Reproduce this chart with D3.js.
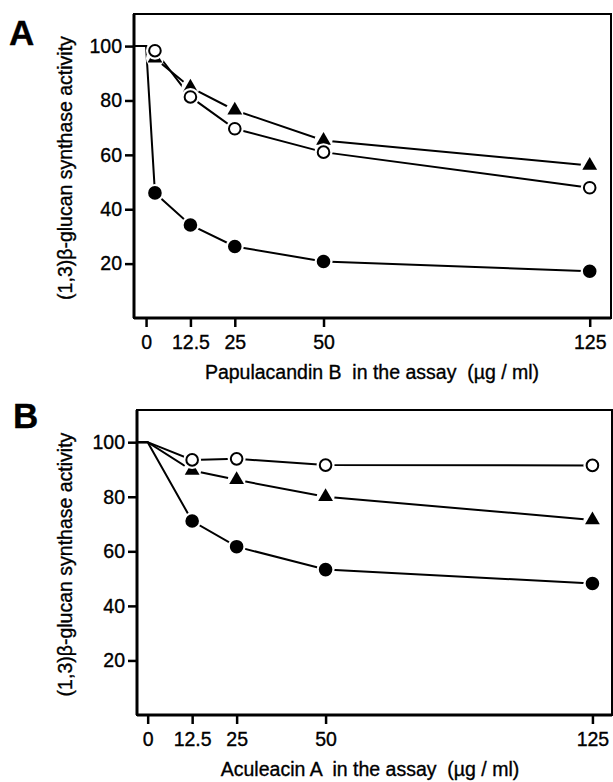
<!DOCTYPE html>
<html>
<head>
<meta charset="utf-8">
<script src="https://cdn.jsdelivr.net/npm/d3@7"></script>
<style>
  body { margin: 0; background: #fff; }
  text { font-family: "Liberation Sans", Arial, Helvetica, sans-serif; fill: #000; stroke: #000; stroke-width: 0.35; }
</style>
</head>
<body>
<svg id="chart" width="613" height="782"></svg>
<script>
// concentrations (ug/ml) and activity (%)
const startValue = 100;
const concA = [2.5, 12.5, 25, 50, 125];
const papFilled = [46, 34.2, 26.3, 20.8, 17.2];
const papOpen = [98.3, 81.3, 69.6, 61, 47.9];
const papTriangle = [95.5, 84.8, 76.4, 65.3, 56.1];

const concB = [12.5, 25, 50, 125];
const acuFilled = [71.1, 61.7, 53.3, 48.2];
const acuOpen = [93.5, 93.9, 91.6, 91.5];
const acuTriangle = [89.6, 86.2, 80, 71.5];

const xTicks = [0, 12.5, 25, 50, 125];
const yTicks = [20, 40, 60, 80, 100];

const svg = d3.select("#chart");

function drawPanel(p) {
    const x = d3.scaleLinear().domain(p.xDomain).range([p.left, p.right]);
    const y = d3.scaleLinear().domain([0, 111.8]).range([p.bottom, p.top]);
    const g = svg.append("g");

    // frame
    g.append("rect")
        .attr("x", p.left).attr("y", p.top)
        .attr("width", p.right - p.left).attr("height", p.bottom - p.top)
        .attr("fill", "none").attr("stroke", "#000").attr("stroke-width", 2);

    const xAxis = g.append("g")
        .attr("transform", `translate(0,${p.bottom})`)
        .call(d3.axisBottom(x).tickValues(xTicks).tickSize(9).tickPadding(8)
            .tickFormat(d => d));
    const yAxis = g.append("g")
        .attr("transform", `translate(${p.left},0)`)
        .call(d3.axisLeft(y).tickValues(yTicks).tickSize(9).tickPadding(3));
    [xAxis, yAxis].forEach(a => {
        a.select(".domain").attr("stroke-width", 3);
        a.selectAll(".tick line").attr("stroke-width", 2.5);
        a.selectAll("text").attr("font-size", 19.5).attr("fill", "#000");
    });
    yAxis.select(".domain").attr("d", `M0,${p.top}V${p.bottom}`);
    xAxis.select(".domain").attr("d", `M${p.left},0H${p.right}`);

    // panel letter
    g.append("text").attr("x", p.letterX).attr("y", p.letterY)
        .attr("font-size", 35).attr("font-weight", "bold").attr("stroke-width", 1)
        .text(p.letter);

    // axis titles
    g.append("text")
        .attr("transform", `translate(72,${(p.top + p.bottom) / 2 + 2}) rotate(-90)`)
        .attr("text-anchor", "middle").attr("font-size", 19.5)
        .text("(1,3)β-glucan synthase activity");
    g.append("text")
        .attr("x", p.titleX).attr("y", p.bottom + 61)
        .attr("text-anchor", "middle").attr("font-size", 19.5)
        .attr("xml:space", "preserve")
        .text(p.xTitle);

    const line = d3.line().x(d => x(d[0])).y(d => y(d[1]));
    const x0 = x.domain()[0];

    p.series.forEach(s => {
        const pts = s.values.map((v, i) => [p.conc[i], v]);
        g.append("path")
            .datum([[x0, startValue], [0, startValue], ...pts])
            .attr("d", line)
            .attr("fill", "none").attr("stroke", "#000").attr("stroke-width", 2);
    });

    const tri = d3.symbol().type(d3.symbolTriangle).size(95);
    p.series.forEach(s => {
        const pts = s.values.map((v, i) => [p.conc[i], v]);
        const m = g.append("g").selectAll("g").data(pts).join("g")
            .attr("transform", d => `translate(${x(d[0])},${y(d[1])})`);
        m.append("circle").attr("r", 9).attr("fill", "#fff");
        if (s.shape === "triangle") {
            m.append("path").attr("d", tri).attr("fill", "#000");
        } else {
            m.append("circle").attr("r", 5.8)
                .attr("fill", s.shape === "filled" ? "#000" : "#fff")
                .attr("stroke", "#000").attr("stroke-width", 2);
        }
    });
}

drawPanel({
    letter: "A", letterX: 9, letterY: 45,
    left: 134, right: 611, top: 14, bottom: 318,
    xDomain: [-3.4, 131], conc: concA, titleX: 372,
    xTitle: "Papulacandin B  in the assay  (µg / ml)",
    series: [
        { shape: "filled", values: papFilled },
        { shape: "triangle", values: papTriangle },
        { shape: "open", values: papOpen }
    ]
});

drawPanel({
    letter: "B", letterX: 13, letterY: 428,
    left: 137, right: 612, top: 410, bottom: 715,
    xDomain: [-3, 130.5], conc: concB, titleX: 370,
    xTitle: "Aculeacin A  in the assay  (µg / ml)",
    series: [
        { shape: "filled", values: acuFilled },
        { shape: "triangle", values: acuTriangle },
        { shape: "open", values: acuOpen }
    ]
});
</script>
</body>
</html>
